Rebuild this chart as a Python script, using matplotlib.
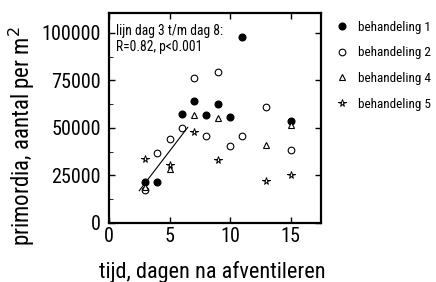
import matplotlib
matplotlib.use("Agg")
import matplotlib.pyplot as plt
import numpy as np

plt.rcParams['font.family'] = ['Roboto Condensed', 'Archivo Narrow', 'DejaVu Sans']

# dagen na afventileren
dag1 = [3, 4, 6, 7, 8, 9, 10, 11, 15]
beh1 = [21500, 21700, 57200, 64000, 56700, 62400, 56000, 98100, 53900]

dag2 = [3, 4, 5, 6, 7, 8, 9, 10, 11, 13, 15]
beh2 = [17200, 37000, 44200, 49800, 76400, 46000, 79600, 40700, 46000, 61300, 38200]

dag4 = [3, 5, 7, 9, 13, 15]
beh4 = [19000, 28200, 56800, 55400, 40900, 51800]

dag5 = [3, 5, 7, 9, 13, 15]
beh5 = [33500, 30300, 47700, 33000, 22300, 25400]

# regressielijn dag 3 t/m dag 8
fit_a, fit_b = -3800, 8325
fit_x = [2.5, 6.5]

fig = plt.figure(figsize=(4.36, 2.82), dpi=100)
ax = fig.add_axes([109/436, 1-223/282, (321-109)/436, (223-13)/282])

ax.plot(dag1, beh1, 'o', color='black', ms=4.8, ls='none', label='behandeling 1')
ax.plot(dag2, beh2, 'o', mfc='white', mec='black', mew=0.8, ms=4.8, ls='none', label='behandeling 2')
ax.plot(dag4, beh4, '^', mfc='white', mec='black', mew=0.8, ms=5, ls='none', label='behandeling 4')
ax.plot(dag5, beh5, '*', mfc='white', mec='black', mew=0.7, ms=5.5, ls='none', label='behandeling 5')
ax.plot(fit_x, fit_a + fit_b*np.array(fit_x), color='black', lw=0.8)

ax.set_xlim(0, 17.5)
ax.set_ylim(0, 110500)
ax.set_xticks([0, 5, 10, 15])
ax.set_yticks([0, 25000, 50000, 75000, 100000])
ax.set_yticks(np.arange(12500, 110000, 25000), minor=True)
ax.tick_params(direction='in', top=True, right=True, labelsize=14.5, length=4, width=1)
ax.tick_params(axis='y', pad=6)
ax.tick_params(axis='x', pad=3)
ax.tick_params(which='minor', direction='in', left=True, right=False, length=3)
for s in ax.spines.values():
    s.set_linewidth(1.6)

ax.text(0.033, 0.95, 'lijn dag 3 t/m dag 8:\nR=0.82, p<0.001', transform=ax.transAxes,
        va='top', ha='left', fontsize=9.8, linespacing=1.25)

ax.set_xlabel('tijd, dagen na afventileren', fontsize=16)
ax.set_ylabel('primordia, aantal per m$^2$', fontsize=16.5)
ax.xaxis.set_label_coords(0.486, -0.18)
ax.yaxis.set_label_coords(-0.34, 0.412)

ax.legend(loc='upper left', bbox_to_anchor=(1.03, 1.0), frameon=False, fontsize=9.5,
          handletextpad=0.7, labelspacing=0.95, handlelength=1.0, borderaxespad=0.2)

fig.savefig('out.png', dpi=100)
